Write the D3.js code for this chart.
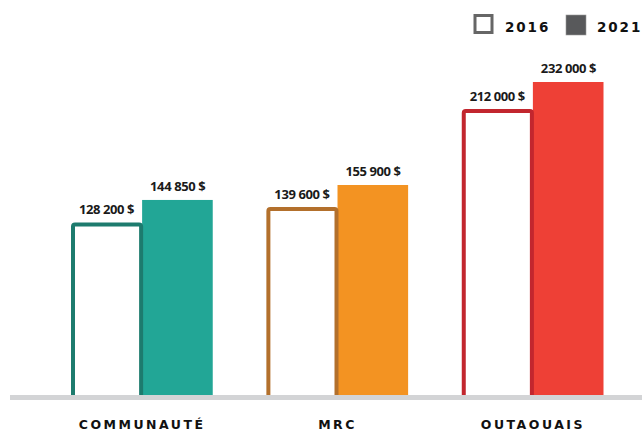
<!DOCTYPE html>
<html><head><meta charset="utf-8">
<script src="https://cdn.jsdelivr.net/npm/d3@7"></script>
<style>body{margin:0;background:#fff}svg{display:block}</style>
</head><body><svg id="c" width="642" height="432"></svg>
<script>
const categories = ["COMMUNAUTÉ", "MRC", "OUTAOUAIS"];
const years = ["2016", "2021"];
const values2016 = [128200, 139600, 212000];
const values2021 = [144850, 155900, 232000];
const labels2016 = ["128 200 $", "139 600 $", "212 000 $"];
const labels2021 = ["144 850 $", "155 900 $", "232 000 $"];
const fillColors = ["#22a696", "#f39322", "#ee4036"];
const strokeColors = ["#1d7b6e", "#b3702c", "#c2262e"];

const svg = d3.select("#c");
const x = d3.scaleBand().domain(categories).range([71, 604]).paddingInner(0.272).paddingOuter(0);
const xs = d3.scaleBand().domain(years).range([0, x.bandwidth()]).padding(0);
const y = d3.scaleLinear().domain([0, 232000]).range([396, 82]);

const data = categories.map((c, i) => ({c, i, v16: values2016[i], v21: values2021[i]}));

const g = svg.append("g");
// 2021 filled bars
g.selectAll(".b21").data(data).join("rect")
  .attr("x", d => x(d.c) + xs("2021"))
  .attr("y", d => y(d.v21))
  .attr("width", xs.bandwidth() - 0.5)
  .attr("height", d => y(0) - y(d.v21))
  .attr("fill", d => fillColors[d.i]);
// 2016 outlined bars
const sw = 4;
g.selectAll(".b16").data(data).join("rect")
  .attr("x", d => x(d.c) + xs("2016") + sw/2)
  .attr("y", d => y(d.v16) + sw/2)
  .attr("width", xs.bandwidth() + 1 - sw)
  .attr("height", d => y(0) - y(d.v16) - sw/2 + 2)
  .attr("rx", 2)
  .attr("fill", "#fff")
  .attr("stroke", d => strokeColors[d.i])
  .attr("stroke-width", sw);

// baseline
svg.append("rect").attr("x", 10).attr("y", 395).attr("width", 632).attr("height", 5).attr("fill", "#d3d4d6");

// value labels
const lf = "'Open Sans', 'Liberation Sans', sans-serif";
g.selectAll(".l16").data(data).join("text")
  .attr("x", d => x(d.c) + xs("2016") + xs.bandwidth()/2)
  .attr("y", d => y(d.v16) - 8)
  .attr("text-anchor", "middle")
  .attr("font-family", lf).attr("font-weight", 700).attr("font-size", 13).attr("letter-spacing", -0.4)
  .attr("fill", "#1a1a1a")
  .text(d => labels2016[d.i]);
g.selectAll(".l21").data(data).join("text")
  .attr("x", d => x(d.c) + xs("2021") + xs.bandwidth()/2)
  .attr("y", d => y(d.v21) - 9)
  .attr("text-anchor", "middle")
  .attr("font-family", lf).attr("font-weight", 700).attr("font-size", 13).attr("letter-spacing", -0.4)
  .attr("fill", "#1a1a1a")
  .text(d => labels2021[d.i]);

// category axis labels
const xAxis = d3.axisBottom(x).tickSize(0).tickPadding(0);
const ax = svg.append("g").attr("transform", "translate(0,429)").call(xAxis);
ax.select(".domain").remove();
ax.selectAll("text")
  .attr("y", 0).attr("dy", 0)
  .attr("font-family", "'DejaVu Sans', sans-serif").attr("font-weight", 700).attr("font-size", 12.5)
  .attr("letter-spacing", 2.5).attr("fill", "#111");

// legend
const leg = svg.append("g");
leg.append("rect").attr("x", 475).attr("y", 15.5).attr("width", 17).attr("height", 17)
  .attr("fill", "#fff").attr("stroke", "#666").attr("stroke-width", 3);
leg.append("text").attr("x", 505).attr("y", 32).text(years[0]);
leg.append("rect").attr("x", 566).attr("y", 15).attr("width", 20).attr("height", 20)
  .attr("fill", "#58595b").attr("stroke", "#9a9a9a").attr("stroke-width", 0.6);
leg.append("text").attr("x", 597).attr("y", 32).text(years[1]);
leg.selectAll("text").attr("font-family", "'DejaVu Sans', sans-serif").attr("font-weight", 700)
  .attr("font-size", 13.5).attr("letter-spacing", 1.9).attr("fill", "#111");
</script></body></html>
